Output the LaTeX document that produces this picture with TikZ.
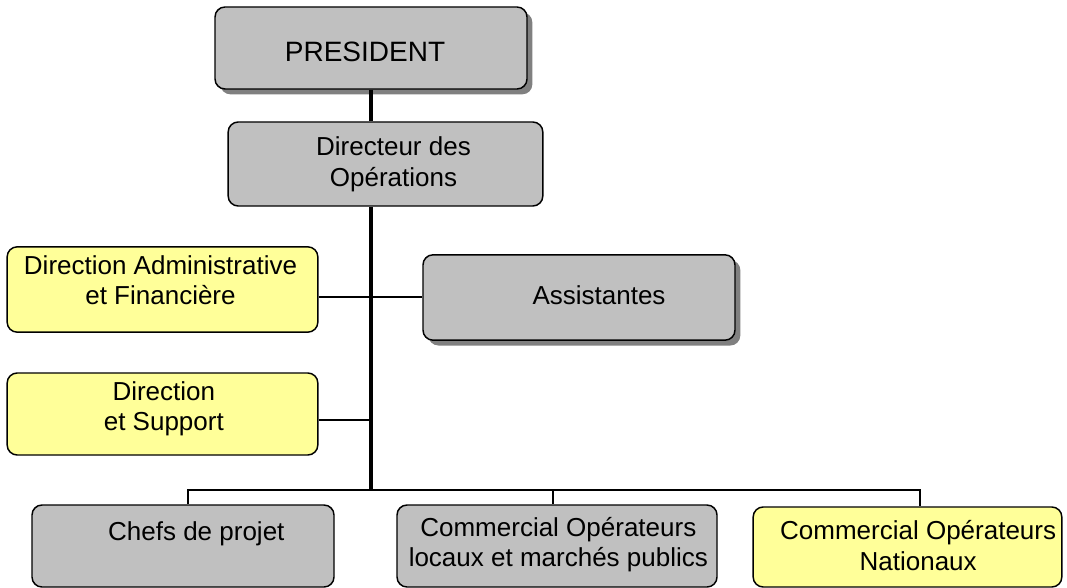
\documentclass[tikz,border=0pt]{standalone}
\usepackage{fontspec}
\setmainfont{Liberation Sans}
\usetikzlibrary{shadows}

\definecolor{boxgrey}{HTML}{C0C0C0}
\definecolor{boxyellow}{HTML}{FFFF99}
\definecolor{shadowgrey}{HTML}{808080}

\begin{document}
\begin{tikzpicture}[
    x=0.75pt, y=-0.75pt,
    box/.style={
        draw=black, line width=1.1pt, rounded corners=7.5pt,
        inner sep=0pt,
    },
    greybox/.style={box, fill=boxgrey},
    yellowbox/.style={box, fill=boxyellow},
    shadowed/.style={
        drop shadow={shadow xshift=4pt, shadow yshift=-4pt,
                     fill=shadowgrey, opacity=1},
    },
    boxtext/.style={font=\fontsize{19.5}{23}\selectfont, align=center},
    trunk/.style={line width=2.6pt},
    branch/.style={line width=1.8pt},
]

\useasboundingbox (0,0) rectangle (1067,588);

% ── Top of the chart ────────────────────────────────────────
\node[greybox, shadowed, minimum width=234pt, minimum height=61.5pt,
      label={[boxtext, font=\fontsize{21}{25}\selectfont,
              xshift=-4.5pt, yshift=-3pt]center:PRESIDENT}]
    (pres) at (371,48) {};
\node[greybox, minimum width=236pt, minimum height=63pt,
      label={[boxtext, xshift=6pt]center:Directeur des\\Opérations}]
    (dir) at (385.5,164) {};

% ── Staff positions ─────────────────────────────────────────
\node[yellowbox, minimum width=233pt, minimum height=64pt,
      label={[boxtext, xshift=-1.5pt, yshift=7pt]center:Direction Administrative\\et Financière}]
    (daf) at (162.5,289.5) {};
\node[greybox, shadowed, minimum width=234pt, minimum height=64pt,
      label={[boxtext, xshift=15pt, yshift=2pt]center:Assistantes}]
    (ass) at (579,297.5) {};
\node[yellowbox, minimum width=233pt, minimum height=61.5pt,
      label={[boxtext, xshift=1pt, yshift=4pt]center:Direction\\et Support}]
    (sup) at (162.5,414) {};

% ── Bottom row ──────────────────────────────────────────────
\node[greybox, minimum width=226.5pt, minimum height=61.5pt,
      label={[boxtext, xshift=10pt, yshift=9pt]center:Chefs de projet}]
    (chefs) at (183,546) {};
\node[greybox, minimum width=240pt, minimum height=61.5pt,
      label={[boxtext, xshift=1pt, yshift=1pt]center:Commercial Opérateurs\\locaux et marchés publics}]
    (loc) at (557,546) {};
\node[yellowbox, minimum width=231.5pt, minimum height=60pt,
      label={[boxtext, xshift=8pt, yshift=1pt]center:Commercial Opérateurs\\Nationaux}]
    (nat) at (907.5,547) {};

% ── Connectors ──────────────────────────────────────────────
\coordinate (bus) at (371,490);
\coordinate (jdaf) at (371,297);
\coordinate (jsup) at (371,420);
\coordinate (busL) at (188,490);
\coordinate (busM) at (553,490);
\coordinate (busR) at (920,490);

\draw[trunk] (pres.south -| bus) -- (dir.north -| bus);
\draw[trunk] (dir.south -| bus) -- (bus);
\draw[branch] (jdaf -| daf.east) -- (jdaf -| ass.west);
\draw[branch] (jsup -| sup.east) -- (jsup);
\draw[branch] (busL |- chefs.north) -- (busL) -- (busR) -- (busR |- nat.north);
\draw[branch] (busM) -- (busM |- loc.north);

\end{tikzpicture}
\end{document}
